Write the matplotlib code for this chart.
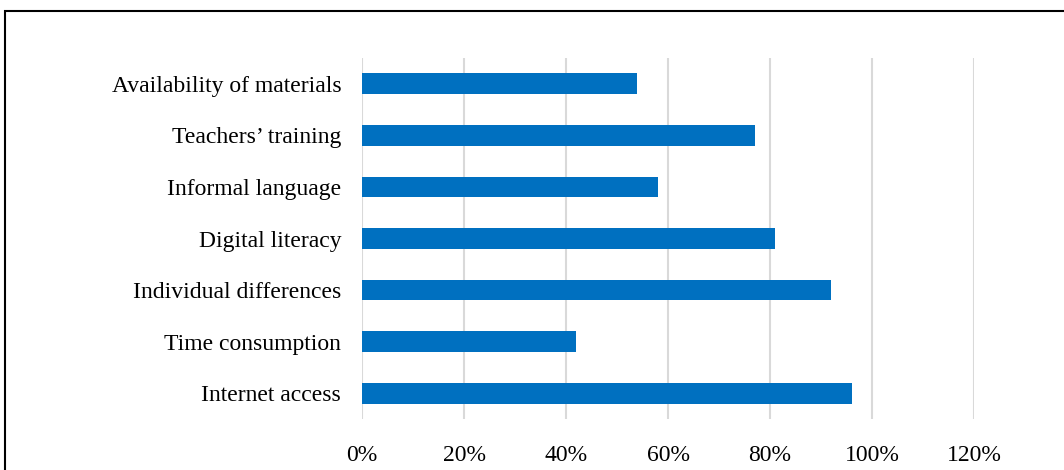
import numpy as np
import matplotlib.pyplot as plt
from matplotlib.patches import Rectangle
from matplotlib.ticker import PercentFormatter

plt.rcParams['font.family'] = ['Liberation Serif', 'DejaVu Serif']

categories = ['Internet access', 'Time consumption', 'Individual differences',
              'Digital literacy', 'Informal language', "Teachers\u2019 training",
              'Availability of materials']
values = [96, 42, 92, 81, 58, 77, 54]
ticks = [0, 20, 40, 60, 80, 100, 120]

fig = plt.figure(figsize=(10.64, 4.7), dpi=100)
ax = fig.add_axes([362/1064, 1-419/470, 612/1064, 361/470])

y = np.arange(len(categories))
ax.barh(y, values, height=0.4, color='#0070C0', zorder=3)
ax.set_yticks(y)
ax.set_yticklabels(categories, fontsize=17)
ax.set_ylim(-0.5, len(categories)-0.5)
ax.set_xlim(0, 120)
ax.set_xticks(ticks)
ax.xaxis.set_major_formatter(PercentFormatter(decimals=0))
ax.tick_params(axis='x', labelsize=17, length=0, pad=19)
ax.tick_params(axis='y', length=0, pad=15)
ax.grid(axis='x', color='#d9d9d9', linewidth=1.5, zorder=0)
for s in ax.spines.values():
    s.set_visible(False)

# outer frame, cut off at right and bottom like the source image
fig.patches.append(Rectangle((5/1064, -0.1), 1.2, 1-11/470+0.1,
                             transform=fig.transFigure, fill=False,
                             edgecolor='black', linewidth=1.5))

fig.savefig('out.png', dpi=100)
